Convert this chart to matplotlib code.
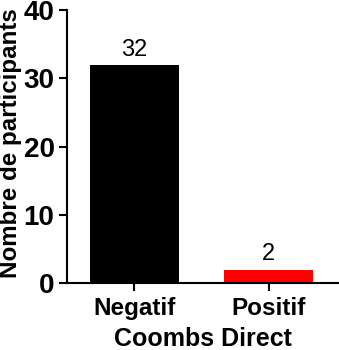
import matplotlib
matplotlib.use("Agg")
from matplotlib import pyplot as plt

categories = ["Negatif", "Positif"]
counts = [32, 2]
colors = ["black", "red"]
y_ticks = [0, 10, 20, 30, 40]

plt.rcParams['font.family'] = ['Liberation Sans', 'DejaVu Sans']

fig = plt.figure(figsize=(3.39, 3.5), dpi=100)
ax = fig.add_axes([0.198, 0.191, 0.80, 0.780])

x = list(range(len(categories)))
ax.bar(x, counts, width=0.66, color=colors)
for xi, c in zip(x, counts):
    ax.text(xi, c + 0.6, str(c), ha='center', va='bottom', fontsize=17)

ax.set_xlim(-0.5, 1.52)
ax.set_ylim(0, 40)
ax.set_yticks(y_ticks)
ax.set_xticks(x)
ax.set_xticklabels(categories, fontsize=17.5, fontweight='bold')
ax.tick_params(axis='y', labelsize=20, width=1.5, length=6, pad=3)
ax.tick_params(axis='x', width=1.5, length=6, pad=4)
for lab in ax.get_yticklabels():
    lab.set_fontweight('bold')
ax.spines['top'].set_visible(False)
ax.spines['right'].set_visible(False)
ax.spines['left'].set_linewidth(1.5)
ax.spines['bottom'].set_linewidth(1.5)

ax.set_ylabel('Nombre de participants', fontsize=17.4, fontweight='bold')
ax.yaxis.set_label_coords(-0.168, 0.512)
ax.set_xlabel('Coombs Direct', fontsize=18, fontweight='bold', labelpad=5)

fig.savefig('out.png', dpi=100)
